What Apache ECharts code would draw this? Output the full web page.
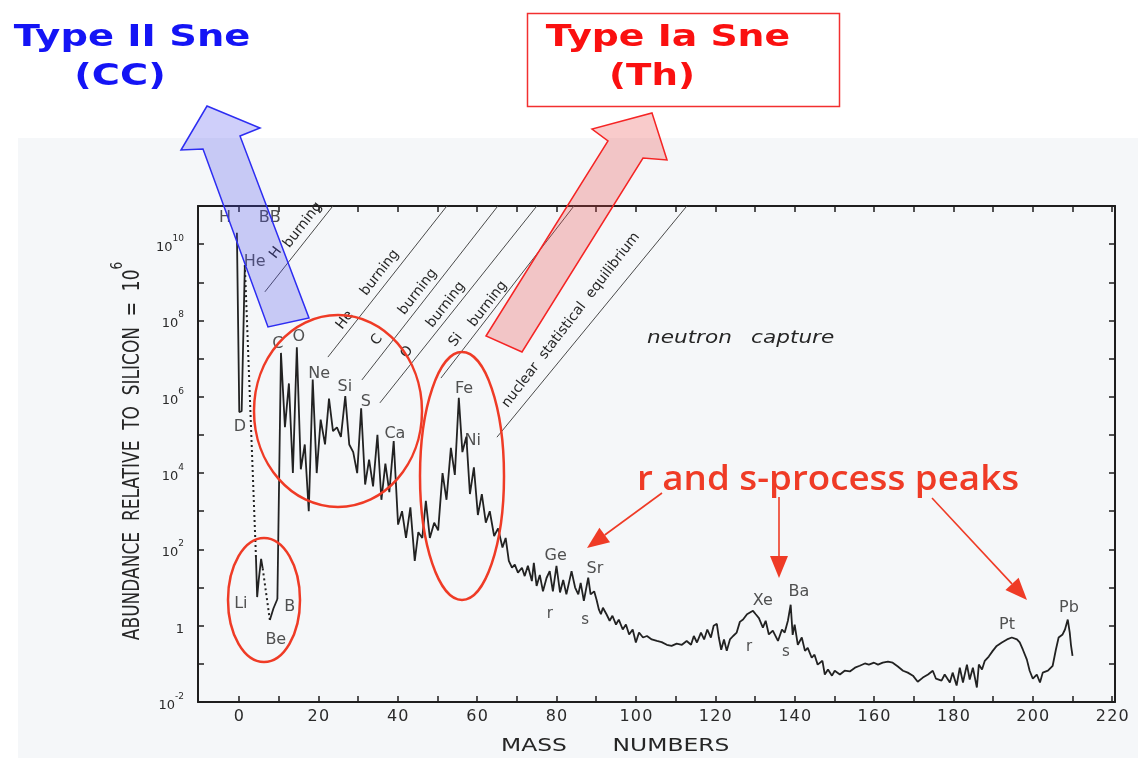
<!DOCTYPE html>
<html>
<head>
<meta charset="utf-8">
<script src="https://cdn.jsdelivr.net/npm/echarts@6.0.0/dist/echarts.min.js"></script>
<style>
  html, body { margin: 0; padding: 0; background: #ffffff; }
  #chart { width: 1138px; height: 758px; }
</style>
</head>
<body>
<div id="chart"></div>
<script>
// ---------------------------------------------------------------
// Solar-system abundances by mass number (Si = 10^6), log10 values
// ---------------------------------------------------------------

// H, D, He
const massLight = [-0.5, 0.1, 0.7, 1.5];
const logLight  = [10.3, 5.6, 5.62, 9.45];

// unstable gap A = 5 (dotted)
const massGap5 = [1.5, 4.3];
const logGap5  = [9.45, 1.8];

// Li
const massLi = [4.3, 4.6, 5.0, 5.6, 6.0];
const logLi  = [1.8, 0.75, 1.2, 1.75, 1.5];

// unstable gap A = 8 (dotted)
const massGap8 = [6.0, 7.8];
const logGap8  = [1.5, 0.15];

// Be, B
const massBeB = [7.8, 8.7, 9.7];
const logBeB  = [0.15, 0.45, 0.7];

// C ... Ca
const massCNO = [9.7, 10.6, 11.6, 12.6, 13.6, 14.6, 15.6, 16.6, 17.6, 18.6, 19.6, 20.6,
  21.7, 22.7, 23.7, 24.7, 25.7, 26.8, 27.8, 28.8, 29.8, 30.8, 31.8, 32.8, 33.8, 34.9,
  35.9, 36.9, 37.9, 39.0];
const logCNO = [0.7, 7.15, 5.2, 6.35, 4.0, 7.3, 4.1, 4.75, 3.0, 6.45, 4.0, 5.4,
  4.75, 5.95, 5.1, 5.2, 4.95, 6.02, 4.75, 4.55, 4.0, 5.7, 3.7, 4.35, 3.65, 5.0,
  3.3, 4.25, 3.5, 4.84];

// Sc ... Ga (iron peak)
const massIron = [40.1, 41.1, 42.1, 43.2, 44.3, 45.2, 46.2, 47.1, 48.1, 49.2, 50.2,
  51.3, 52.3, 53.4, 54.4, 55.4, 56.3, 57.3, 58.2, 59.2, 60.2, 61.2, 62.2, 63.2, 64.3,
  65.3, 66.4, 67.2, 68.0];
const logIron = [2.65, 3.0, 2.3, 3.1, 1.7, 2.45, 2.3, 3.27, 2.3, 2.7, 2.5,
  4.0, 3.3, 4.66, 3.95, 5.97, 4.55, 4.95, 3.45, 4.15, 2.9, 3.45, 2.7, 3.0, 2.35,
  2.55, 2.05, 2.3, 1.7];

// heavy elements (neutron capture)
const massHeavy = [68.8, 69.5, 70.3, 71.3, 72.0, 72.8, 73.8, 74.3, 75.0, 75.8, 76.6,
  77.5, 78.3, 79.1, 80.0, 80.9, 81.7, 82.5, 83.8, 84.7, 85.5, 86.1, 86.9, 88.0, 88.6,
  89.5, 90.1, 90.7, 91.2, 91.7, 92.6, 93.4, 94.1, 95.0, 95.7, 96.7, 97.5, 98.3, 99.2,
  100.0, 100.8, 101.8, 102.8, 104.0, 105.3, 106.5, 107.8, 109.0, 110.3, 111.6, 112.8,
  113.9, 114.6, 115.4, 116.4, 117.2, 118.0, 118.9, 119.6, 120.4, 120.9, 121.5, 122.2,
  122.9, 123.7, 124.5, 125.4, 126.2, 127.0, 128.0, 128.5, 129.5, 130.2, 131.0, 132.0,
  132.7, 133.5, 134.5, 135.8, 136.8, 137.5, 138.3, 139.0, 139.5, 140.0, 140.8, 141.8,
  142.6, 143.3, 144.3, 145.0, 145.8, 147.0, 147.6, 148.4, 149.4, 150.1, 151.4, 152.6,
  153.9, 155.2, 156.4, 157.7, 158.7, 160.0, 161.0, 162.2, 163.5, 164.7, 166.0, 167.3,
  168.5, 169.8, 171.0, 172.3, 173.6, 174.8, 175.6, 177.0, 177.8, 179.1, 179.8, 180.8,
  181.6, 182.4, 183.4, 184.1, 184.9, 185.9, 186.4, 187.2, 187.9, 188.9, 189.9, 190.9,
  192.2, 193.5, 194.7, 196.0, 196.7, 197.5, 198.5, 199.2, 200.0, 201.0, 201.8, 202.5,
  203.8, 205.0, 205.8, 206.5, 207.5, 208.1, 208.8, 209.3, 209.6, 210.0];
const logHeavy = [1.52, 1.6, 1.39, 1.52, 1.3, 1.57, 1.17, 1.65, 1.04, 1.33, 0.9,
  1.25, 1.43, 0.9, 1.57, 0.87, 1.2, 0.82, 1.43, 1.0, 0.82, 1.12, 0.65, 1.26, 0.82,
  0.9, 0.68, 0.42, 0.3, 0.47, 0.3, 0.13, 0.26, 0.03, 0.16, -0.1, 0.03, -0.23, -0.1,
  -0.44, -0.18, -0.31, -0.27, -0.36, -0.4, -0.43, -0.5, -0.53, -0.47, -0.5, -0.4,
  -0.5, -0.27, -0.44, -0.18, -0.36, -0.1, -0.31, 0.0, 0.05, -0.31, -0.63, -0.36,
  -0.66, -0.36, -0.27, -0.18, 0.1, 0.16, 0.3, 0.26, 0.39, 0.3, 0.2, -0.05,
  0.13, -0.23, -0.13, -0.4, -0.1, -0.18, 0.13, 0.55, -0.24, 0.03, -0.5, -0.31,
  -0.66, -0.58, -0.84, -0.76, -1.02, -0.92, -1.28, -1.15, -1.31, -1.18, -1.28, -1.18,
  -1.2, -1.1, -1.05, -0.99, -1.02, -0.97, -1.02, -0.97, -0.94, -0.97, -1.07, -1.18,
  -1.23, -1.31, -1.47, -1.36, -1.28, -1.18, -1.39, -1.44, -1.28, -1.49, -1.23, -1.57,
  -1.1, -1.49, -1.02, -1.41, -1.1, -1.62, -1.02, -1.15, -0.92, -0.81, -0.66, -0.53,
  -0.44, -0.36, -0.31, -0.36, -0.44, -0.63, -0.89, -1.18, -1.39, -1.28, -1.49, -1.23,
  -1.18, -1.05, -0.63, -0.31, -0.23, -0.1, 0.16, -0.18, -0.5, -0.79];

// element names and where they are written [name, mass, log abundance]
const elementNames = [
  ['H', -3.5, 10.69], ['BB', 7.8, 10.69], ['He', 4.0, 9.54], ['D', 0.25, 5.21],
  ['Li', 0.5, 0.57], ['Be', 9.3, -0.37], ['B', 12.8, 0.49],
  ['C', 9.8, 7.38], ['O', 15.1, 7.57], ['Ne', 20.2, 6.6], ['Si', 26.7, 6.26],
  ['S', 32.0, 5.86], ['Ca', 39.3, 5.02], ['Fe', 56.7, 6.2], ['Ni', 58.9, 4.84],
  ['Ge', 79.8, 1.83], ['Sr', 89.7, 1.49], ['Xe', 132.0, 0.65], ['Ba', 141.1, 0.88],
  ['Pt', 193.5, 0.02], ['Pb', 209.1, 0.46]
];
const processNames = [
  ['r', 78.3, 0.31], ['s', 87.2, 0.15], ['r', 128.5, -0.56], ['s', 137.8, -0.69]
];

// axis ticks
const massTicks = [0, 10, 20, 30, 40, 50, 60, 70, 80, 90, 100, 110, 120, 130, 140, 150,
  160, 170, 180, 190, 200, 210, 220];
const massTickLabels = [0, 20, 40, 60, 80, 100, 120, 140, 160, 180, 200, 220];
const abundanceExponents = [-2, 0, 2, 4, 6, 8, 10];

// burning-stage guide lines, drawn in axis coordinates
const burningLines = [
  [[6.55, 8.75], [23.68, 11]],
  [[22.42, 7.04], [52.39, 11]],
  [[30.98, 6.44], [65.24, 11]],
  [[35.52, 5.84], [75.06, 11]],
  [[50.9, 6.49], [84.4, 11]],
  [[65.0, 4.94], [112.85, 11]]
];
const burningText = [
  ['H', [9.32, 9.77]], ['burning', [16.12, 10.5]],
  ['He', [26.7, 8.01]], ['burning', [35.5, 9.25]],
  ['C', [34.76, 7.49]], ['burning', [45.09, 8.75]],
  ['O', [42.32, 7.17]], ['burning', [52.14, 8.41]],
  ['Si', [54.66, 7.49]], ['burning', [62.72, 8.43]],
  ['nuclear  statistical  equilibrium', [83.63, 8.01]]
];

const zip = (xs, ys) => xs.map((x, i) => [x, ys[i]]);

const INK = '#222222';
const FONT = 'DejaVu Sans';

function solid(xs, ys) {
  return {
    type: 'line', data: zip(xs, ys), symbol: 'none', z: 3, silent: true,
    lineStyle: { color: INK, width: 1.8 }
  };
}
function dotted(xs, ys) {
  return {
    type: 'line', data: zip(xs, ys), symbol: 'none', z: 3, silent: true,
    lineStyle: { color: INK, width: 2, type: [2, 3] }
  };
}

const chart = echarts.init(document.getElementById('chart'));

const axisLine = { onZero: false, lineStyle: { color: '#1e1e1e', width: 2 } };
const tickStyle = { color: '#1e1e1e', width: 1.5 };

const option = {
  animation: false,
  backgroundColor: '#ffffff',
  grid: { left: 198, top: 206, width: 917, height: 496, containLabel: false, outerBoundsMode: 'none' },
  xAxis: [
    {
      type: 'value', min: -10.3, max: 220.7, position: 'bottom',
      axisLine: axisLine,
      axisTick: { inside: true, length: 6, customValues: massTicks, lineStyle: tickStyle },
      axisLabel: {
        customValues: massTickLabels, margin: 7,
        formatter: v => String(v).split('').map(c => '{d|' + c + '}').join(''),
        rich: { d: { fontFamily: FONT, fontSize: 16, color: '#2a2a2a', padding: [0, 0.6, 0, 0.6] } }
      },
      splitLine: { show: false }
    },
    {
      type: 'value', min: -10.3, max: 220.7, position: 'top',
      axisLine: axisLine,
      axisTick: { inside: true, length: 6, customValues: massTicks, lineStyle: tickStyle },
      axisLabel: { show: false },
      splitLine: { show: false }
    }
  ],
  yAxis: [
    {
      type: 'value', min: -2, max: 11, interval: 1, position: 'left',
      axisLine: axisLine,
      axisTick: { inside: true, length: 6, lineStyle: tickStyle },
      axisLabel: {
        margin: 14,
        formatter: v => {
          if (abundanceExponents.indexOf(v) < 0) return '';
          if (v === 0) return '{b|1}';
          return '{b|10}{s|' + v + '}';
        },
        rich: {
          b: { fontFamily: FONT, fontSize: 13, color: '#2a2a2a', lineHeight: 20, verticalAlign: 'bottom' },
          s: { fontFamily: FONT, fontSize: 9, color: '#2a2a2a', lineHeight: 20, verticalAlign: 'top' }
        }
      },
      splitLine: { show: false }
    },
    {
      type: 'value', min: -2, max: 11, interval: 1, position: 'right',
      axisLine: axisLine,
      axisTick: { inside: true, length: 6, lineStyle: tickStyle },
      axisLabel: { show: false },
      splitLine: { show: false }
    }
  ],
  series: [
    solid(massLight, logLight),
    dotted(massGap5, logGap5),
    solid(massLi, logLi),
    dotted(massGap8, logGap8),
    solid(massBeB, logBeB),
    solid(massCNO.concat(massIron, massHeavy), logCNO.concat(logIron, logHeavy)),
    {
      type: 'scatter', symbolSize: 0, z: 4, silent: true,
      data: elementNames.map(e => ({ name: e[0], value: [e[1], e[2]] })),
      label: { show: true, position: 'inside', formatter: '{b}', fontFamily: FONT, fontSize: 16, color: '#262626' }
    },
    {
      type: 'scatter', symbolSize: 0, z: 4, silent: true,
      data: processNames.map(e => ({ name: e[0], value: [e[1], e[2]] })),
      label: { show: true, position: 'inside', formatter: '{b}', fontFamily: FONT, fontSize: 15, color: '#262626' }
    }
  ]
};

chart.setOption(option);

// ---------------------------------------------------------------
// Overlays: guide lines, annotations, arrows, titles
// ---------------------------------------------------------------
const toPx = p => chart.convertToPixel({ xAxisIndex: 0, yAxisIndex: 0 }, p);
const ANGLE = 52.4 * Math.PI / 180;
const RED = '#ef3b26';
const g = [];

// pale sheet behind the plot
g.push({ type: 'rect', z: -100, silent: true, shape: { x: 18, y: 138, width: 1120, height: 620 }, style: { fill: '#f5f7f9' } });

burningLines.forEach(([a, b]) => {
  const p = toPx(a), q = toPx(b);
  g.push({ type: 'line', z: 5, silent: true, shape: { x1: p[0], y1: p[1], x2: q[0], y2: q[1] }, style: { stroke: '#4a4a4a', lineWidth: 1 } });
});
burningText.forEach(([t, at]) => {
  const p = toPx(at);
  g.push({
    type: 'text', z: 6, silent: true, x: p[0], y: p[1], rotation: ANGLE,
    style: { text: t, fontFamily: FONT, fontSize: 14, fill: '#262626', align: 'center', verticalAlign: 'middle' }
  });
});
[['neutron', [113.5, 7.54]], ['capture', [139.5, 7.54]]].forEach(([t, at]) => {
  const p = toPx(at);
  g.push({
    type: 'text', z: 6, silent: true, x: p[0], y: p[1], scaleX: 1.2,
    style: { text: t, fontFamily: FONT, fontStyle: 'italic', fontSize: 18, fill: '#262626', align: 'center', verticalAlign: 'middle' }
  });
});

// axis titles
g.push({
  type: 'text', z: 6, silent: true, x: 127, y: 451, rotation: Math.PI / 2, scaleY: 1.3,
  style: {
    text: '{a|ABUNDANCE  RELATIVE  TO  SILICON  =  10}{s|6}',
    align: 'center', verticalAlign: 'middle',
    rich: {
      a: { fontFamily: FONT, fontSize: 17, fill: '#262626', lineHeight: 26, verticalAlign: 'bottom' },
      s: { fontFamily: FONT, fontSize: 12, fill: '#262626', lineHeight: 26, verticalAlign: 'top' }
    }
  }
});
[['MASS', 534], ['NUMBERS', 671]].forEach(([t, x]) => {
  g.push({
    type: 'text', z: 6, silent: true, x: x, y: 746, scaleX: 1.3,
    style: { text: t, fontFamily: FONT, fontSize: 18, fill: '#262626', align: 'center', verticalAlign: 'middle' }
  });
});

// highlighted regions
[[264, 600, 36, 62], [338, 411, 84, 96], [462, 476, 42, 124]].forEach(([cx, cy, rx, ry]) => {
  g.push({ type: 'ellipse', z: 60, silent: true, shape: { cx, cy, rx, ry }, style: { fill: 'none', stroke: RED, lineWidth: 2.5 } });
});

// block arrows toward the supernova types
g.push({
  type: 'polygon', z: 70, silent: true,
  shape: { points: [[207, 106], [260, 128], [240, 136], [309, 318], [268, 327], [203, 149], [181, 150]] },
  style: { fill: 'rgba(70,70,235,0.26)', stroke: '#2d2df2', lineWidth: 1.5 }
});
g.push({
  type: 'polygon', z: 70, silent: true,
  shape: { points: [[652, 113], [667, 160], [643, 158], [522, 352], [486, 336], [608, 141], [592, 129]] },
  style: { fill: 'rgba(235,70,70,0.28)', stroke: '#f52424', lineWidth: 1.5 }
});

// thin pointer arrows
function pointer(x1, y1, x2, y2) {
  const dx = x2 - x1, dy = y2 - y1, L = Math.hypot(dx, dy);
  const ux = dx / L, uy = dy / L, len = 22, half = 9;
  const bx = x2 - ux * len, by = y2 - uy * len;
  g.push({ type: 'line', z: 70, silent: true, shape: { x1, y1, x2: bx, y2: by }, style: { stroke: RED, lineWidth: 1.6 } });
  g.push({
    type: 'polygon', z: 70, silent: true,
    shape: { points: [[x2, y2], [bx - uy * half, by + ux * half], [bx + uy * half, by - ux * half]] },
    style: { fill: RED }
  });
}
pointer(662, 493, 587, 548);
pointer(779, 497, 779, 578);
pointer(932, 498, 1027, 600);

g.push({
  type: 'text', z: 70, silent: true, x: 828, y: 480, scaleX: 1.08,
  style: { text: 'r and s-process peaks', fontFamily: 'Open Sans', fontWeight: 600, fontSize: 34, fill: RED, align: 'center', verticalAlign: 'middle' }
});

// titles
const titleStyle = (text, fill) => ({ text, fontFamily: FONT, fontWeight: 'bold', fontSize: 30, fill, align: 'center', verticalAlign: 'middle' });
g.push({ type: 'text', z: 70, silent: true, x: 132, y: 38, scaleX: 1.28, style: titleStyle('Type II Sne', '#1414f5') });
g.push({ type: 'text', z: 70, silent: true, x: 120, y: 77, scaleX: 1.28, style: titleStyle('(CC)', '#1414f5') });
g.push({ type: 'rect', z: 70, silent: true, shape: { x: 527.5, y: 13.5, width: 312, height: 93 }, style: { fill: '#ffffff', stroke: '#f23030', lineWidth: 1.5 } });
g.push({ type: 'text', z: 71, silent: true, x: 668, y: 38, scaleX: 1.26, style: titleStyle('Type Ia Sne', '#fa1010') });
g.push({ type: 'text', z: 71, silent: true, x: 652, y: 77, scaleX: 1.24, style: titleStyle('(Th)', '#fa1010') });

chart.setOption({ graphic: { elements: g } });
</script>
</body>
</html>
